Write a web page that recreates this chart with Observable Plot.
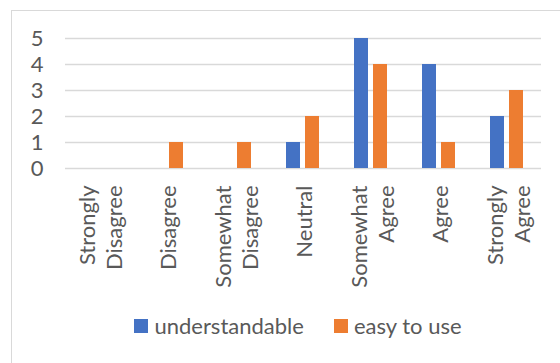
<!DOCTYPE html>
<html><head><meta charset="utf-8">
<script src="https://cdn.jsdelivr.net/npm/d3@7"></script>
<script src="https://cdn.jsdelivr.net/npm/@observablehq/plot@0.6"></script>
<style>
body{margin:0;background:#fff;}
#wrap{position:relative;width:560px;height:363px;overflow:hidden;font-family:Lato, "Open Sans", sans-serif;color:#595959;background:#fff;}
#frame{position:absolute;left:11px;top:10px;width:600px;height:400px;border:1.3px solid #d9d9d9;}
#chart{position:absolute;left:0;top:0;}
#legend{position:absolute;top:313px;left:0;width:596px;display:flex;justify-content:center;align-items:center;font-size:22px;gap:30px;line-height:26px;}
.item{display:flex;align-items:center;gap:6px;}
.sw{width:14px;height:14px;display:inline-block;}
</style>
</head><body>
<div id="wrap"><div id="frame"></div><div id="chart"></div><div id="legend"></div></div>
<script>
const categories = ["Strongly Disagree", "Disagree", "Somewhat Disagree", "Neutral", "Somewhat Agree", "Agree", "Strongly Agree"];
const categoryLabels = ["Strongly\nDisagree", "Disagree", "Somewhat\nDisagree", "Neutral", "Somewhat\nAgree", "Agree", "Strongly\nAgree"];
const series = ["understandable", "easy to use"];
const understandable = [0, 0, 0, 1, 5, 4, 2];
const easyToUse = [0, 1, 1, 2, 4, 1, 3];
const colors = ["#4472C4", "#ED7D31"];
const yTicks = [0, 1, 2, 3, 4, 5];

const values = [understandable, easyToUse];
const data = [];
categories.forEach((c, i) => series.forEach((s, j) => data.push({category: c, series: s, value: values[j][i]})));
const labelMap = new Map(categories.map((c, i) => [c, categoryLabels[i]]));

const plot = Plot.plot({
  width: 560, height: 300,
  marginTop: 38, marginBottom: 132, marginLeft: 63, marginRight: 17,
  style: {fontFamily: "Lato, 'Open Sans', sans-serif", fontSize: "22px", color: "#595959", background: "transparent", overflow: "visible"},
  fx: {domain: categories, padding: 0, label: null, axis: null},
  x: {domain: series, paddingInner: 0.25, paddingOuter: 0.84, axis: null},
  y: {domain: [0, 5], label: null},
  color: {domain: series, range: colors},
  marks: [
    Plot.ruleY(yTicks, {stroke: "#d9d9d9", strokeWidth: 1.3}),
    Plot.barY(data, {fx: "category", x: "series", y: "value", fill: "series"}),
    Plot.axisY({ticks: yTicks, tickFormat: d3.format("d"), tickSize: 0, tickPadding: 22, label: null, fontSize: 22}),
    Plot.axisFx({anchor: "bottom", tickRotate: -90, tickSize: 0, tickPadding: 17, label: null, fontSize: 22, lineHeight: 1.22, tickFormat: d => labelMap.get(d)})
  ]
});
document.getElementById("chart").appendChild(plot);

const legend = document.getElementById("legend");
series.forEach((s, i) => {
  const item = document.createElement("div");
  item.className = "item";
  const sw = document.createElement("span");
  sw.className = "sw";
  sw.style.background = colors[i];
  const t = document.createElement("span");
  t.textContent = s;
  item.appendChild(sw); item.appendChild(t);
  legend.appendChild(item);
});
</script>
</body></html>
